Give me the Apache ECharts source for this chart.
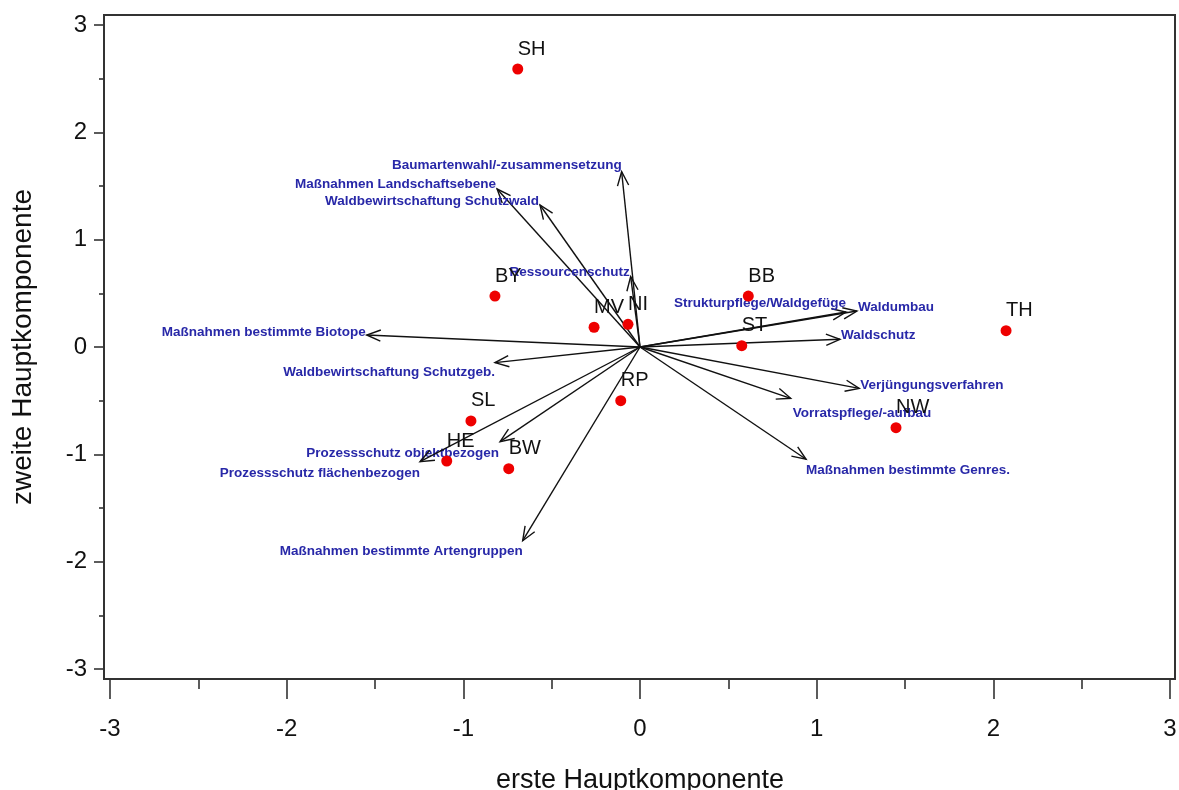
<!DOCTYPE html>
<html>
<head>
<meta charset="utf-8">
<title>Hauptkomponentenanalyse – Biplot</title>
<script src="https://cdn.jsdelivr.net/npm/echarts@6/dist/echarts.min.js"></script>
<style>
  html, body { margin: 0; padding: 0; background: #ffffff; }
  #chart { width: 1179px; height: 790px; }
</style>
</head>
<body>
<div id="chart"></div>
<script>
// Scores of the federal states on the first two principal components
const states = ['SH', 'BY', 'MV', 'NI', 'BB', 'ST', 'RP', 'NW', 'TH', 'SL', 'HE', 'BW'];
const stateX = [-0.692, -0.821, -0.260, -0.068, 0.613, 0.576, -0.109, 1.449, 2.072, -0.957, -1.094, -0.743];
const stateY = [2.590, 0.475, 0.184, 0.211, 0.475, 0.012, -0.500, -0.752, 0.152, -0.689, -1.062, -1.134];

// Loadings of the measure variables (arrow tips)
const varNames = [
  'Baumartenwahl/-zusammensetzung',
  'Maßnahmen Landschaftsebene',
  'Waldbewirtschaftung Schutzwald',
  'Ressourcenschutz',
  'Maßnahmen bestimmte Biotope',
  'Waldbewirtschaftung Schutzgeb.',
  'Prozessschutz objektbezogen',
  'Prozessschutz flächenbezogen',
  'Maßnahmen bestimmte Artengruppen',
  'Strukturpflege/Waldgefüge',
  'Waldumbau',
  'Waldschutz',
  'Verjüngungsverfahren',
  'Vorratspflege/-aufbau',
  'Maßnahmen bestimmte Genres.'
];
const loadX = [-0.104, -0.809, -0.566, -0.053, -1.547, -0.821, -0.792, -1.245, -0.664, 1.166, 1.228, 1.132, 1.241, 0.853, 0.940];
const loadY = [1.633, 1.472, 1.323, 0.655, 0.112, -0.146, -0.882, -1.069, -1.805, 0.326, 0.335, 0.072, -0.385, -0.478, -1.046];

// Axis range and tick step
const axisMin = -3;
const axisMax = 3;
const axisStep = 1;

// Label anchoring for each arrow: text alignment and pixel nudge from the tip
const varLabelPlacement = [
  ['right', 0, -6], ['right', -1, -5], ['right', -1, -4], ['right', -1, -4],
  ['right', -1, -3], ['right', 0, 10], ['right', -1, 12], ['right', 0, 12],
  ['right', 0, 11], ['right', 0, -9], ['left', 1, -4], ['left', 1, -4],
  ['left', 1, -3], ['left', 2, 15], ['left', 0, 11]
];

const FONT = '"Liberation Sans", Arial, Helvetica, sans-serif';
const INK = '#333333';

// Plot geometry (pixels): frame and the -3…3 data span inside it
const frame = { left: 104, right: 4, top: 15, bottom: 111 };
const span = { left: 110, right: 9, top: 25, bottom: 121 };

function renderArrow(params, api) {
  const i = params.dataIndex;
  const o = api.coord([0, 0]);
  const t = api.coord([api.value(0), api.value(1)]);
  const ang = Math.atan2(t[1] - o[1], t[0] - o[0]);
  const headLen = 15;
  const headAng = 22 * Math.PI / 180;
  const w1 = [t[0] - headLen * Math.cos(ang - headAng), t[1] - headLen * Math.sin(ang - headAng)];
  const w2 = [t[0] - headLen * Math.cos(ang + headAng), t[1] - headLen * Math.sin(ang + headAng)];
  const pl = varLabelPlacement[i];
  return {
    type: 'group',
    children: [
      { type: 'line', shape: { x1: o[0], y1: o[1], x2: t[0], y2: t[1] },
        style: { stroke: '#111111', lineWidth: 1.4 } },
      { type: 'polyline', shape: { points: [w1, t, w2] },
        style: { stroke: '#111111', lineWidth: 1.4, fill: null } },
      { type: 'text', x: t[0] + pl[1], y: t[1] + pl[2],
        style: { text: varNames[i], fill: '#2828a8', font: 'bold 13.5px ' + FONT,
                 align: pl[0], verticalAlign: 'middle' } }
    ]
  };
}

const tickStyle = { color: INK, width: 1.6 };
const hiddenAxis = { type: 'value', show: false, min: axisMin, max: axisMax };
const fixedGrid = { outerBoundsMode: 'none', containLabel: false };

const chart = echarts.init(document.getElementById('chart'), null, { renderer: 'canvas' });

chart.setOption({
  backgroundColor: '#ffffff',
  animation: false,
  grid: [
    // 0: frame box; its bottom edge carries the x ticks
    Object.assign({ show: true, borderColor: INK, borderWidth: 2, backgroundColor: 'transparent' }, fixedGrid, frame),
    // 1: data region spanning exactly -3 … 3 on both axes
    Object.assign({}, fixedGrid, span),
    // 2: x tick carrier (data span horizontally, frame vertically)
    Object.assign({}, fixedGrid, { left: span.left, right: span.right, top: frame.top, bottom: frame.bottom }),
    // 3: y tick carrier (frame horizontally, data span vertically)
    Object.assign({}, fixedGrid, { left: frame.left, right: frame.right, top: span.top, bottom: span.bottom })
  ],
  xAxis: [
    { gridIndex: 0, type: 'value', min: 0, max: 1, show: false },
    Object.assign({ gridIndex: 1 }, hiddenAxis),
    {
      gridIndex: 2, type: 'value', min: axisMin, max: axisMax, interval: axisStep,
      position: 'bottom',
      axisLine: { show: false, onZero: false },
      axisTick: { show: true, inside: false, length: 20, lineStyle: tickStyle },
      minorTick: { show: true, splitNumber: 2, length: 10, lineStyle: tickStyle },
      splitLine: { show: false },
      minorSplitLine: { show: false },
      axisLabel: { margin: 38, color: '#111', fontSize: 24, fontFamily: FONT },
      name: 'erste Hauptkomponente',
      nameLocation: 'middle',
      nameGap: 88,
      nameTextStyle: { color: '#111', fontSize: 27, fontFamily: FONT }
    },
    Object.assign({ gridIndex: 3 }, hiddenAxis)
  ],
  yAxis: [
    { gridIndex: 0, type: 'value', min: 0, max: 1, show: false },
    Object.assign({ gridIndex: 1 }, hiddenAxis),
    Object.assign({ gridIndex: 2 }, hiddenAxis),
    {
      gridIndex: 3, type: 'value', min: axisMin, max: axisMax, interval: axisStep,
      position: 'left',
      axisLine: { show: false, onZero: false },
      axisTick: { show: true, inside: false, length: 10, lineStyle: tickStyle },
      minorTick: { show: true, splitNumber: 2, length: 5, lineStyle: tickStyle },
      splitLine: { show: false },
      minorSplitLine: { show: false },
      axisLabel: { margin: 17, color: '#111', fontSize: 24, fontFamily: FONT },
      name: 'zweite Hauptkomponente',
      nameLocation: 'middle',
      nameGap: 67,
      nameRotate: 90,
      nameTextStyle: { color: '#111', fontSize: 28, fontFamily: FONT }
    }
  ],
  series: [
    {
      type: 'custom',
      name: 'Ladungen',
      xAxisIndex: 1, yAxisIndex: 1,
      clip: false,
      z: 2,
      renderItem: renderArrow,
      data: varNames.map((n, i) => [loadX[i], loadY[i]])
    },
    {
      type: 'scatter',
      name: 'Länder',
      xAxisIndex: 1, yAxisIndex: 1,
      z: 3,
      symbol: 'circle',
      symbolSize: 11,
      itemStyle: { color: '#ee0000', opacity: 1 },
      label: {
        show: true,
        formatter: '{b}',
        position: 'inside',
        align: 'left',
        verticalAlign: 'middle',
        offset: [0, -20],
        color: '#111111',
        opacity: 1,
        fontSize: 20,
        fontFamily: FONT
      },
      data: states.map((s, i) => ({ name: s, value: [stateX[i], stateY[i]] }))
    }
  ]
});
</script>
</body>
</html>
